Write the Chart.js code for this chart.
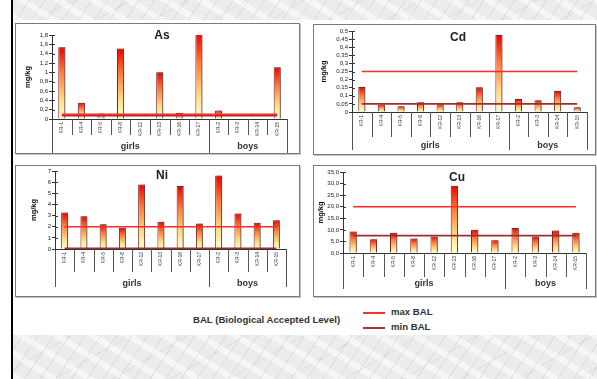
<!DOCTYPE html>
<html>
<head>
<meta charset="utf-8">
<script src="https://cdn.jsdelivr.net/npm/chart.js@4.4.1/dist/chart.umd.min.js"></script>
<style>
  html, body { margin: 0; padding: 0; }
  body {
    width: 597px; height: 379px; position: relative; overflow: hidden;
    background: #fff; font-family: Arial, "Liberation Sans", sans-serif;
  }
  #marble {
    position: absolute; left: 13px; top: 0; width: 584px; height: 379px;
    background-color: #ececec;
    background-image:
      repeating-linear-gradient(124deg, rgba(140,140,140,0.16) 0 1px, transparent 1px 13px),
      repeating-linear-gradient(32deg, rgba(255,255,255,0.55) 0 6px, transparent 6px 19px),
      repeating-linear-gradient(150deg, rgba(160,160,160,0.10) 0 2px, transparent 2px 29px);
  }
  #edge { position: absolute; left: 11px; top: 0; width: 2px; height: 379px; background: #000; }
  #panel { position: absolute; left: 13px; top: 20px; width: 584px; height: 315px; background: #fff; }
  .box { position: absolute; border: 1px solid #7a7a7a; background: #fff; box-shadow: 1px 1px 0 #c4c4c4; }
  .box canvas { display: block; }
  .title { position: absolute; font-weight: bold; font-size: 12px; color: #222; transform: translate(-50%, -50%); }
  .leg { position: absolute; font-weight: bold; font-size: 9.6px; color: #333; white-space: nowrap; }
  .legline { position: absolute; width: 22px; height: 2px; }
</style>
</head>
<body>
<div id="marble"></div>
<div id="edge"></div>
<div id="panel"></div>

<div class="box" style="left:15px;top:23px;width:283px;height:129px"><canvas id="asChart" width="283" height="129"></canvas></div>
<div class="box" style="left:313px;top:24px;width:281px;height:129px"><canvas id="cdChart" width="281" height="129"></canvas></div>
<div class="box" style="left:15px;top:165px;width:283px;height:130px"><canvas id="niChart" width="283" height="130"></canvas></div>
<div class="box" style="left:313px;top:165px;width:281px;height:130px"><canvas id="cuChart" width="281" height="130"></canvas></div>

<div class="title" style="left:162px;top:35px">As</div>
<div class="title" style="left:458px;top:37px">Cd</div>
<div class="title" style="left:162px;top:175px">Ni</div>
<div class="title" style="left:457px;top:177px">Cu</div>

<div class="leg" style="left:193px;top:314px">BAL (Biological Accepted Level)</div>
<div class="legline" style="left:363px;top:312px;background:#ff3030"></div>
<div class="leg" style="left:391px;top:306px">max BAL</div>
<div class="legline" style="left:363px;top:327px;background:#a03838"></div>
<div class="leg" style="left:391px;top:321px">min BAL</div>

<script>
// students, grouped as girls then boys
const students = ["KR-1", "KR-4", "KR-5", "KR-8", "KR-12", "KR-13", "KR-16", "KR-17", "KR-2", "KR-3", "KR-14", "KR-15"];
const groupNames = ["girls", "boys"];
const groupSizes = [8, 4];

// mg/kg per student
const asValues = [1.54, 0.35, 0.12, 1.51, 0, 1.0, 0.13, 1.84, 0.18, 0, 0, 1.11];
const cdValues = [0.155, 0.046, 0.035, 0.06, 0.048, 0.06, 0.153, 0.475, 0.08, 0.072, 0.13, 0.03];
const niValues = [3.28, 2.95, 2.23, 1.9, 5.78, 2.44, 5.65, 2.29, 6.6, 3.19, 2.35, 2.59];
const cuValues = [9.3, 5.9, 8.8, 6.3, 7.1, 29.1, 10.0, 5.5, 10.8, 7.1, 9.7, 8.8];

// biological accepted levels
const asBal = [0.1, 0.07];   // max, min
const cdBal = [0.25, 0.05];
const niBal = [2.0, 0.06];
const cuBal = [20, 7.5];

// y tick labels (bottom to top)
const asTicks = ["0", "0,2", "0,4", "0,6", "0,8", "1", "1,2", "1,4", "1,6", "1,8"];
const cdTicks = ["0", "0,05", "0,1", "0,15", "0,2", "0,25", "0,3", "0,35", "0,4", "0,45", "0,5"];
const niTicks = ["0", "1", "2", "3", "4", "5", "6", "7"];
const cuTicks = ["0,0", "5,0", "10,0", "15,0", "20,0", "25,0", "30,0", "35,0"];

function barGradient(context) {
  const chart = context.chart;
  if (!chart.chartArea || context.raw === undefined) return "#f03020";
  const y = chart.scales.y;
  const top = y.getPixelForValue(context.raw);
  const bottom = y.getPixelForValue(0);
  if (bottom - top < 2) return "#ee1010";
  const g = chart.ctx.createLinearGradient(0, top, 0, bottom);
  g.addColorStop(0, "#ee0000");
  g.addColorStop(0.35, "#ff7a3a");
  g.addColorStop(0.75, "#ffe08a");
  g.addColorStop(1, "#ffffd0");
  return g;
}

// grey shadow on the right of the bars
const barShadow = {
  id: "barShadow",
  beforeDatasetDraw(chart, args) {
    if (args.meta.type !== "bar") return;
    const c = chart.ctx;
    c.save();
    c.shadowColor = "rgba(80,80,80,0.55)";
    c.shadowOffsetX = 2;
    c.shadowOffsetY = 0;
    c.shadowBlur = 0;
  },
  afterDatasetDraw(chart, args) {
    if (args.meta.type !== "bar") return;
    chart.ctx.restore();
  },
};

// category dividers, group dividers and girls/boys labels under the x axis
const groupAxis = {
  id: "groupAxis",
  afterDraw(chart, args, opts) {
    const x = chart.scales.x;
    const y = chart.scales.y;
    const c = chart.ctx;
    const base = chart.chartArea.bottom;
    const n = chart.data.labels.length;
    const bounds = [];
    for (let i = 0; i <= n; i++) {
      if (i === 0) bounds.push(x.left);
      else if (i === n) bounds.push(x.right);
      else bounds.push((x.getPixelForValue(i - 1) + x.getPixelForValue(i)) / 2);
    }
    const longAt = [0];
    let acc = 0;
    groupSizes.forEach((s) => { acc += s; longAt.push(acc); });

    c.save();
    c.strokeStyle = "#555";
    c.lineWidth = 1;
    bounds.forEach((bx, i) => {
      const px = Math.round(bx) + 0.5;
      c.beginPath();
      c.moveTo(px, base);
      c.lineTo(px, longAt.includes(i) ? opts.longBottom : base + opts.shortLen);
      c.stroke();
    });

    // small inner tick marks on the y axis
    c.strokeStyle = "#333";
    y.ticks.forEach((t) => {
      const py = Math.round(y.getPixelForValue(t.value)) + 0.5;
      c.beginPath();
      c.moveTo(y.right, py);
      c.lineTo(y.right + 3, py);
      c.stroke();
    });

    c.fillStyle = "#333";
    c.font = "bold 9px Arial, 'Liberation Sans', sans-serif";
    c.textAlign = "center";
    c.textBaseline = "middle";
    let start = 0;
    groupNames.forEach((name, gi) => {
      const mid = (bounds[start] + bounds[start + groupSizes[gi]]) / 2;
      c.fillText(name, mid, opts.labelY);
      start += groupSizes[gi];
    });
    c.restore();
  },
};

function makeChart(canvasId, values, bal, tickLabels, maxV, step, box) {
  const ctx = document.getElementById(canvasId);
  return new Chart(ctx, {
    data: {
      labels: students,
      datasets: [
        {
          type: "line",
          label: "max BAL",
          data: students.map(() => bal[0]),
          borderColor: "#ff2a2a",
          borderWidth: 1.6,
          pointRadius: 0,
          order: 0,
        },
        {
          type: "line",
          label: "min BAL",
          data: students.map(() => bal[1]),
          borderColor: "#a02c2c",
          borderWidth: 1.6,
          pointRadius: 0,
          order: 0,
        },
        {
          type: "bar",
          label: "mg/kg",
          data: values,
          backgroundColor: barGradient,
          borderColor: "#7a2020",
          borderWidth: 1,
          barPercentage: 0.36,
          categoryPercentage: 1,
          order: 1,
        },
      ],
    },
    options: {
      responsive: false,
      animation: false,
      devicePixelRatio: 1,
      layout: { padding: { left: box.padLeft, top: box.padTop, right: box.padRight, bottom: 0 } },
      plugins: {
        legend: { display: false },
        tooltip: { enabled: false },
        groupAxis: { longBottom: box.longBottom, shortLen: box.shortLen, labelY: box.labelY },
      },
      scales: {
        x: {
          offset: true,
          grid: { drawOnChartArea: false, drawTicks: false },
          border: { color: "#333", width: 1 },
          ticks: {
            font: { size: 5, family: "Arial, 'Liberation Sans', sans-serif" },
            color: "#333",
            minRotation: 90,
            maxRotation: 90,
            autoSkip: false,
            padding: 3,
          },
          afterFit(s) { s.height = box.xHeight; },
        },
        y: {
          min: 0,
          max: maxV,
          grid: { drawOnChartArea: false, tickLength: 3, color: "#333" },
          border: { color: "#333", width: 1 },
          ticks: {
            stepSize: step,
            autoSkip: false,
            font: { size: 6, family: "Arial, 'Liberation Sans', sans-serif" },
            color: "#222",
            padding: 1,
            callback: (v, i) => tickLabels[i],
          },
          title: {
            display: true,
            text: "mg/kg",
            font: { size: 7.5, weight: "bold", family: "Arial, 'Liberation Sans', sans-serif" },
            color: "#111",
            padding: { top: 0, bottom: 0 },
          },
          afterFit(s) { s.width = box.yWidth; },
        },
      },
    },
    plugins: [barShadow, groupAxis],
  });
}

makeChart("asChart", asValues, asBal, asTicks, 1.8, 0.2,
  { padLeft: 7, yWidth: 29, padTop: 11, padRight: 12, xHeight: 34, shortLen: 16, longBottom: 129, labelY: 123 });
makeChart("cdChart", cdValues, cdBal, cdTicks, 0.5, 0.05,
  { padLeft: 5, yWidth: 33, padTop: 6, padRight: 8, xHeight: 42, shortLen: 25, longBottom: 125, labelY: 121 });
makeChart("niChart", niValues, niBal, niTicks, 7, 1,
  { padLeft: 13, yWidth: 26, padTop: 5, padRight: 13, xHeight: 47, shortLen: 23, longBottom: 121, labelY: 118 });
makeChart("cuChart", cuValues, cuBal, cuTicks, 35, 5,
  { padLeft: 2, yWidth: 27, padTop: 6, padRight: 9, xHeight: 43, shortLen: 24, longBottom: 123, labelY: 118 });
</script>
</body>
</html>
